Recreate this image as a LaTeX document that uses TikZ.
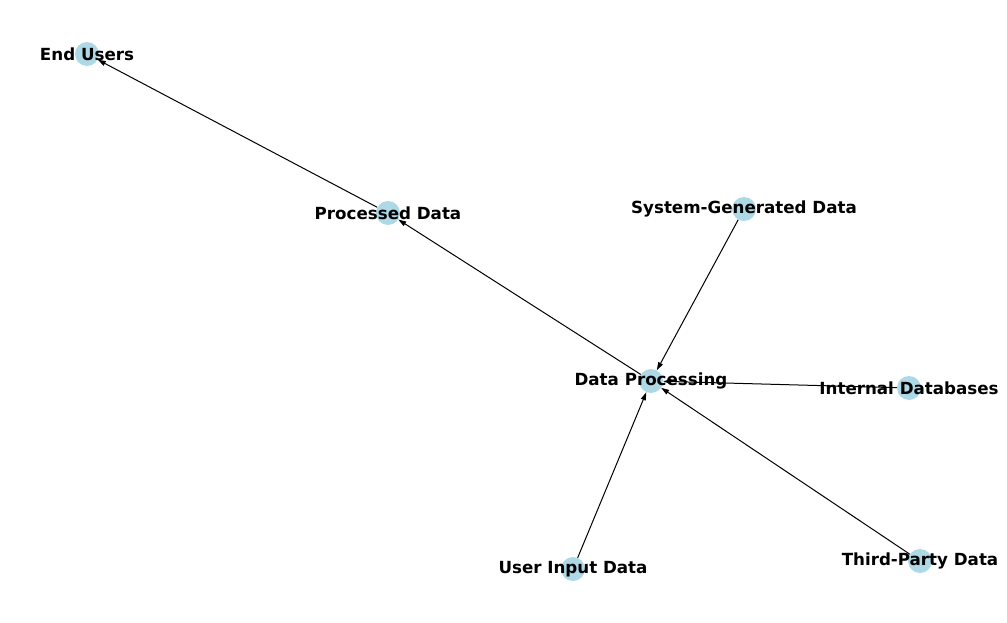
\documentclass[tikz,border=0pt]{standalone}
\usepackage{fontspec}
\setmainfont{DejaVu Sans}
\usetikzlibrary{arrows.meta}
\definecolor{lightblue}{RGB}{173,216,230}
\tikzset{
  dot/.style={circle, fill=lightblue, minimum size=24pt, inner sep=0pt},
  tag/.style={font=\bfseries\fontsize{16.7}{18}\selectfont, inner sep=0pt},
  flow/.style={-{Triangle[length=8pt,width=5pt]}, line width=1pt}
}
\begin{document}
\begin{tikzpicture}[x=1pt,y=-1pt]
  \useasboundingbox (0,0) rectangle (1007,623);
  % nodes
  \node[dot] (users) at (87,54) {};
  \node[dot] (proc) at (388,213) {};
  \node[dot] (sys) at (744,209) {};
  \node[dot] (dp) at (651,381) {};
  \node[dot] (idb) at (909,388) {};
  \node[dot] (uin) at (573,569) {};
  \node[dot] (tpd) at (920,561) {};
  % edges
  \draw[flow] (sys) -- (dp);
  \draw[flow] (idb) -- (dp);
  \draw[flow] (uin) -- (dp);
  \draw[flow] (tpd) -- (dp);
  \draw[flow] (dp) -- (proc);
  \draw[flow] (proc) -- (users);
  % labels
  \node[tag] (users-t) at (users) {End Users};
  \node[tag] (proc-t) at (proc) {Processed Data};
  \node[tag] (sys-t) at (sys) {System-Generated Data};
  \node[tag] (dp-t) at (dp) {Data Processing};
  \node[tag] (idb-t) at (idb) {Internal Databases};
  \node[tag] (uin-t) at (uin) {User Input Data};
  \node[tag] (tpd-t) at (tpd) {Third-Party Data};
\end{tikzpicture}
\end{document}
